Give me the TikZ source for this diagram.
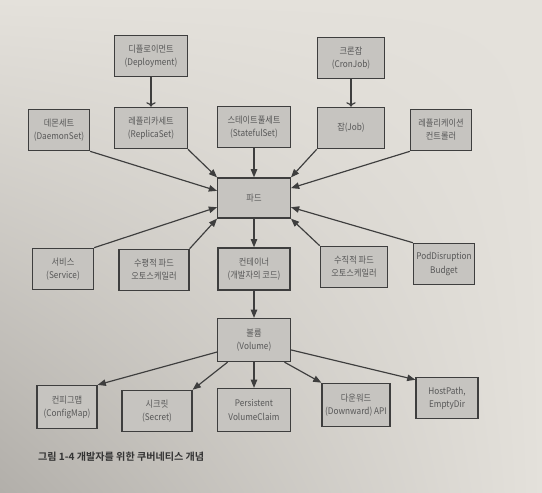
\documentclass[tikz,border=0pt]{standalone}
\usepackage{fontspec}
\setmainfont{Noto Sans CJK KR}
\newfontfamily\cjk[FakeStretch=0.9]{Noto Sans CJK KR}
\newfontfamily\cjkb{Noto Sans CJK KR Bold}
\usetikzlibrary{arrows.meta,shadings}
\definecolor{pagebg}{RGB}{228,225,219}
\definecolor{pagedark}{RGB}{178,175,170}
\definecolor{boxfill}{RGB}{198,196,192}
\definecolor{boxline}{RGB}{62,62,62}
\definecolor{boxtext}{RGB}{88,88,88}
\tikzset{
	box/.style={draw=boxline, fill=boxfill, line width=1.1pt, align=center,
		minimum height=1.24cm, inner sep=1pt, text=boxtext,
		font=\cjk\fontsize{7.8}{11.2}\selectfont},
	widebox/.style={box, minimum width=2.18cm},
	midbox/.style={box, minimum width=2.02cm},
	slimbox/.style={box, minimum width=1.83cm},
	link/.style={draw=boxline, line width=1pt, -{Triangle[length=7pt,width=5.5pt]}}
}
\begin{document}
\begin{tikzpicture}[x=0.03cm,y=-0.03cm]
	\shade[upper left=pagebg, upper right=pagebg, lower right=pagebg, lower left=pagedark]
		(0,0) rectangle (542,492);
	\useasboundingbox (0,0) rectangle (542,492);
	% top row
	\node (Dp) at (151,56)  [widebox] {디플로이먼트\\(Deployment)};
	\node (Cj) at (351,58)  [midbox] {크론잡\\(CronJob)};
	% second row
	\node (Dm) at (59,130)  [slimbox] {데몬세트\\(DaemonSet)};
	\node (Rs) at (151,128) [widebox] {레플리카세트\\(ReplicaSet)} edge [link, <-] (Dp);
	\node (Ss) at (254,127) [widebox] {스테이트풀세트\\(StatefulSet)};
	\node (Jb) at (351,128) [midbox] {잡(Job)} edge [link, <-] (Cj);
	\node (Rc) at (441,130) [slimbox] {레플리케이션\\컨트롤러};
	% pod
	\node (Pd) at (254,198) [widebox, minimum height=1.2cm] {파드};
	% third row
	\node (Sv) at (63,269)  [slimbox] {서비스\\(Service)};
	\node (Hp) at (154,270) [widebox, minimum width=2.1cm] {수평적 파드\\오토스케일러};
	\node (Ct) at (254,269) [widebox, line width=1.8pt] {컨테이너\\(개발자의 코드)};
	\node (Vp) at (354,267) [midbox] {수직적 파드\\오토스케일러};
	\node (Pb) at (444,264) [slimbox] {PodDisruption\\Budget};
	% volume
	\node (Vo) at (254,340) [widebox, minimum height=1.29cm] {볼륨\\(Volume)};
	% bottom row
	\node (Cm) at (67,407)  [slimbox, minimum width=1.8cm, minimum height=1.29cm] {컨피그맵\\(ConfigMap)};
	\node (Sc) at (157,411) [widebox, minimum width=2.1cm] {시크릿\\(Secret)};
	\node (Pv) at (254,410) [widebox, minimum height=1.29cm] {Persistent\\VolumeClaim};
	\node (Dw) at (356,405) [midbox, minimum width=2.04cm, minimum height=1.3cm] {다운워드\\(Downward) API};
	\node (Hs) at (447,398) [slimbox, minimum width=1.86cm] {HostPath,\\EmptyDir};
	% into the pod
	\draw[link] (Dm.south east) -- (Pd.169);
	\draw[link] (Rs.south east) -- (Pd.north west);
	\draw[link] (Ss) -- (Pd);
	\draw[link] (Jb.south west) -- (Pd.north east);
	\draw[link] (Rc.south west) -- (Pd.15);
	\draw[link] (Sv.north east) -- (Pd.194);
	\draw[link] (Hp.north east) -- (Pd.south west);
	\draw[link] (Vp.north west) -- (Pd.south east);
	\draw[link] (Pb.north west) -- (Pd.-14);
	% pod, container, volume
	\draw[link] (Pd) -- (Ct);
	\draw[link] (Ct) -- (Vo);
	\draw[link] (Vo.198) -- (Cm.north east);
	\draw[link] (Vo.220) -- (Sc.north east);
	\draw[link] (Vo) -- (Pv);
	\draw[link] (Vo.-36) -- (Dw.north west);
	\draw[link] (Vo.-15) -- (Hs.150);
	% caption
	\node (cap) at (34,457) [anchor=west, text=black!80, font=\cjkb\fontsize{8.6}{10}\selectfont]
		{그림 1-4 개발자를 위한 쿠버네티스 개념};
\end{tikzpicture}
\end{document}
